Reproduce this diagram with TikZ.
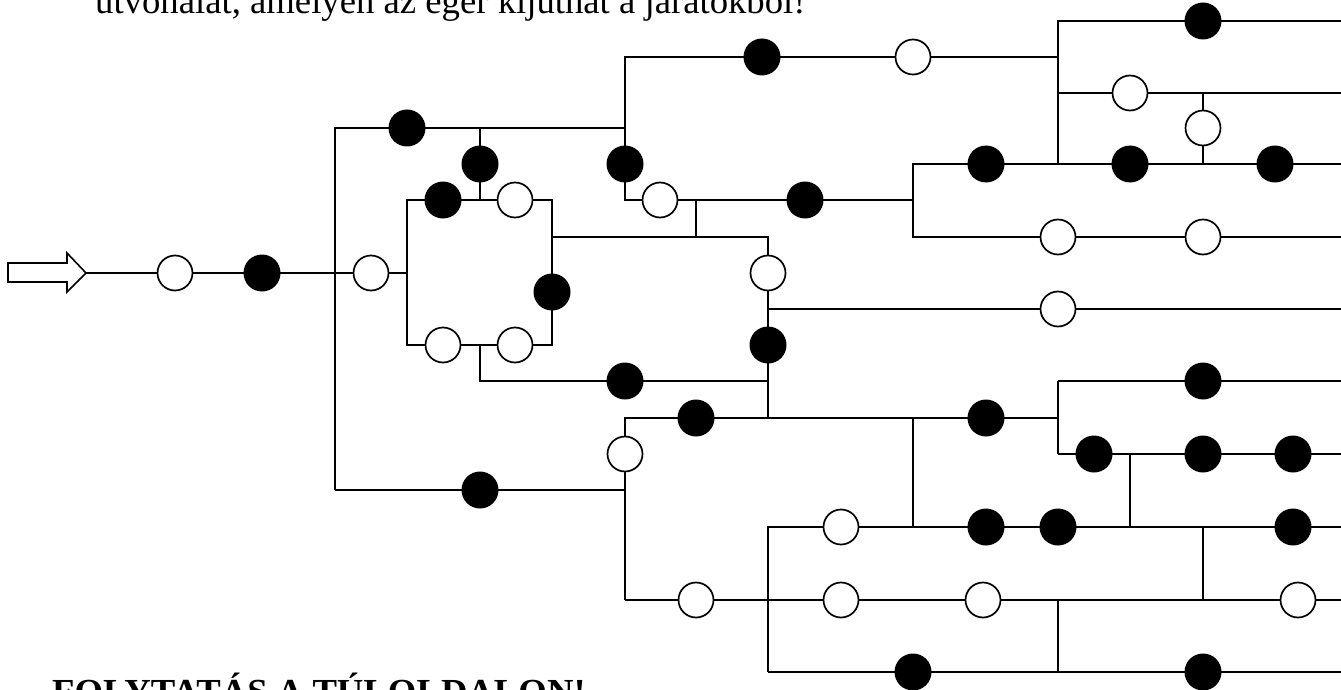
\documentclass[tikz,border=0pt]{standalone}
\usepackage{fontspec}
\setmainfont{Liberation Serif}
\usetikzlibrary{backgrounds}
\begin{document}
\begin{tikzpicture}[x=1pt,y=-1pt,
  wire/.style={line width=2pt,line join=miter},
  bc/.style={circle,fill=black,minimum size=37pt,inner sep=0pt},
  wc/.style={circle,draw=black,fill=white,line width=1.7pt,minimum size=35pt,inner sep=0pt},
  txt/.style={anchor=base west,inner sep=0pt,font=\fontsize{36.7}{44}\selectfont}]
\useasboundingbox (0,0) rectangle (1341,690);

% texts
\node[txt] (t1) at (95,14) {útvonalat, amelyen az egér kijuthat a járatokból!};
\node[txt,font=\fontsize{36.7}{44}\selectfont\bfseries] (t2) at (52,704) {FOLYTATÁS A TÚLOLDALON!};

% entry arrow
\coordinate (tip) at (86,273);
\draw[line width=1.6pt,line join=miter,fill=white] (8,263) -- (67,263) -- (67,253) -- (tip) -- (67,292) -- (67,282) -- (8,282) -- cycle;

% circles
\node[wc] (w1) at (175,273) {};
\node[bc] (b2) at (262,273) {};
\node[wc] (w3) at (371,273) {};
\node[bc] (b4) at (407,128) {};
\node[bc] (b5) at (480,164) {};
\node[bc] (b6) at (443,200) {};
\node[wc] (w7) at (515,200) {};
\node[bc] (b8) at (552,292) {};
\node[wc] (w9) at (443,345) {};
\node[wc] (w10) at (515,345) {};
\node[bc] (b11) at (625,381) {};
\node[bc] (b12) at (625,164) {};
\node[wc] (w13) at (660,200) {};
\node[bc] (b14) at (805,200) {};
\node[bc] (b15) at (762,57) {};
\node[wc] (w16) at (913,57) {};
\node[bc] (b17) at (1203,21) {};
\node[wc] (w18) at (1130,93) {};
\node[wc] (w19) at (1203,128) {};
\node[bc] (b20) at (986,164) {};
\node[bc] (b21) at (1130,164) {};
\node[bc] (b22) at (1275,164) {};
\node[wc] (w23) at (1058,237) {};
\node[wc] (w24) at (1203,237) {};
\node[wc] (w25) at (768,273) {};
\node[wc] (w26) at (1058,309) {};
\node[bc] (b27) at (768,345) {};
\node[bc] (b28) at (696,418) {};
\node[wc] (w29) at (625,454) {};
\node[bc] (b30) at (480,490) {};
\node[bc] (b31) at (986,418) {};
\node[bc] (b32) at (1203,381) {};
\node[bc] (b33) at (1094,454) {};
\node[bc] (b34) at (1203,454) {};
\node[bc] (b35) at (1293,454) {};
\node[wc] (w36) at (841,527) {};
\node[bc] (b37) at (986,527) {};
\node[bc] (b38) at (1058,527) {};
\node[bc] (b39) at (1293,527) {};
\node[wc] (w40) at (696,600) {};
\node[wc] (w41) at (841,600) {};
\node[wc] (w42) at (983,600) {};
\node[wc] (w43) at (1298,600) {};
\node[bc] (b44) at (913,672) {};
\node[bc] (b45) at (1203,672) {};

% junctions and corners
\coordinate (jm) at (335,273);
\coordinate (sqm) at (407,273);
\coordinate (c335t) at (335,128);
\coordinate (c335b) at (335,490);
\coordinate (j480t) at (480,128);
\coordinate (c625t) at (625,128);
\coordinate (c625top) at (625,57);
\coordinate (j480s) at (480,200);
\coordinate (sqtl) at (407,200);
\coordinate (sqtr) at (552,200);
\coordinate (sqbr) at (552,345);
\coordinate (sqbl) at (407,345);
\coordinate (j480b) at (480,345);
\coordinate (c480l) at (480,381);
\coordinate (j768l) at (768,381);
\coordinate (c625m) at (625,200);
\coordinate (j696t) at (696,200);
\coordinate (j913a) at (913,200);
\coordinate (j696b) at (696,237);
\coordinate (j552m) at (552,237);
\coordinate (c768t) at (768,237);
\coordinate (j1058t) at (1058,57);
\coordinate (c1058top) at (1058,21);
\coordinate (e21) at (1341,21);
\coordinate (j1058b) at (1058,93);
\coordinate (j1203a) at (1203,93);
\coordinate (e93) at (1341,93);
\coordinate (c913t) at (913,164);
\coordinate (j1058c) at (1058,164);
\coordinate (j1203c) at (1203,164);
\coordinate (e164) at (1341,164);
\coordinate (c913b) at (913,237);
\coordinate (e237) at (1341,237);
\coordinate (j768a) at (768,309);
\coordinate (e309) at (1341,309);
\coordinate (c768b) at (768,418);
\coordinate (c625r) at (625,418);
\coordinate (j913r) at (913,418);
\coordinate (j1058r) at (1058,418);
\coordinate (c1058u) at (1058,381);
\coordinate (e381) at (1341,381);
\coordinate (c1058d) at (1058,454);
\coordinate (j1130a) at (1130,454);
\coordinate (e454) at (1341,454);
\coordinate (j625b) at (625,490);
\coordinate (c625b) at (625,600);
\coordinate (c768r) at (768,527);
\coordinate (j913b) at (913,527);
\coordinate (j1130b) at (1130,527);
\coordinate (j1203r) at (1203,527);
\coordinate (e527) at (1341,527);
\coordinate (j768s) at (768,600);
\coordinate (j1058s) at (1058,600);
\coordinate (j1203s) at (1203,600);
\coordinate (e600) at (1341,600);
\coordinate (c768s) at (768,672);
\coordinate (j1058z) at (1058,672);
\coordinate (e672) at (1341,672);

% wires
\begin{scope}[on background layer]
\draw[wire] (tip) -- (w1.center) -- (b2.center) -- (jm) -- (w3.center) -- (sqm);
\draw[wire] (c335b) -- (c335t) -- (b4.center) -- (j480t) -- (c625t);
\draw[wire] (j480t) -- (b5.center) -- (j480s);
\draw[wire] (sqtl) -- (b6.center) -- (j480s) -- (w7.center) -- (sqtr) -- (b8.center) -- (sqbr) -- (w10.center) -- (j480b) -- (w9.center) -- (sqbl) -- cycle;
\draw[wire] (j480b) -- (c480l) -- (b11.center) -- (j768l);
\draw[wire] (c335b) -- (b30.center) -- (j625b);
\draw[wire] (j913a) -- (b14.center) -- (j696t) -- (w13.center) -- (c625m) -- (b12.center) -- (c625top) -- (b15.center) -- (w16.center) -- (j1058t);
\draw[wire] (j696t) -- (j696b);
\draw[wire] (j552m) -- (j696b) -- (c768t) -- (w25.center) -- (j768a) -- (b27.center) -- (j768l) -- (c768b);
\draw[wire] (j768a) -- (w26.center) -- (e309);
\draw[wire] (e21) -- (b17.center) -- (c1058top) -- (j1058t) -- (j1058b) -- (j1058c);
\draw[wire] (j1058b) -- (w18.center) -- (j1203a) -- (e93);
\draw[wire] (j1203a) -- (w19.center) -- (j1203c);
\draw[wire] (e164) -- (b22.center) -- (j1203c) -- (b21.center) -- (j1058c) -- (b20.center) -- (c913t) -- (j913a) -- (c913b) -- (w23.center) -- (w24.center) -- (e237);
\draw[wire] (c625b) -- (j625b) -- (w29.center) -- (c625r) -- (b28.center) -- (c768b) -- (j913r) -- (b31.center) -- (j1058r);
\draw[wire] (c1058u) -- (c1058d);
\draw[wire] (c1058u) -- (b32.center) -- (e381);
\draw[wire] (c1058d) -- (b33.center) -- (j1130a) -- (b34.center) -- (b35.center) -- (e454);
\draw[wire] (j913r) -- (j913b);
\draw[wire] (j1130a) -- (j1130b);
\draw[wire] (c768s) -- (j768s) -- (c768r) -- (w36.center) -- (j913b) -- (b37.center) -- (b38.center) -- (j1130b) -- (j1203r) -- (b39.center) -- (e527);
\draw[wire] (c625b) -- (w40.center) -- (j768s) -- (w41.center) -- (w42.center) -- (j1058s) -- (j1203s) -- (w43.center) -- (e600);
\draw[wire] (j1203r) -- (j1203s);
\draw[wire] (j1058s) -- (j1058z);
\draw[wire] (c768s) -- (b44.center) -- (j1058z) -- (b45.center) -- (e672);
\end{scope}
\end{tikzpicture}
\end{document}
